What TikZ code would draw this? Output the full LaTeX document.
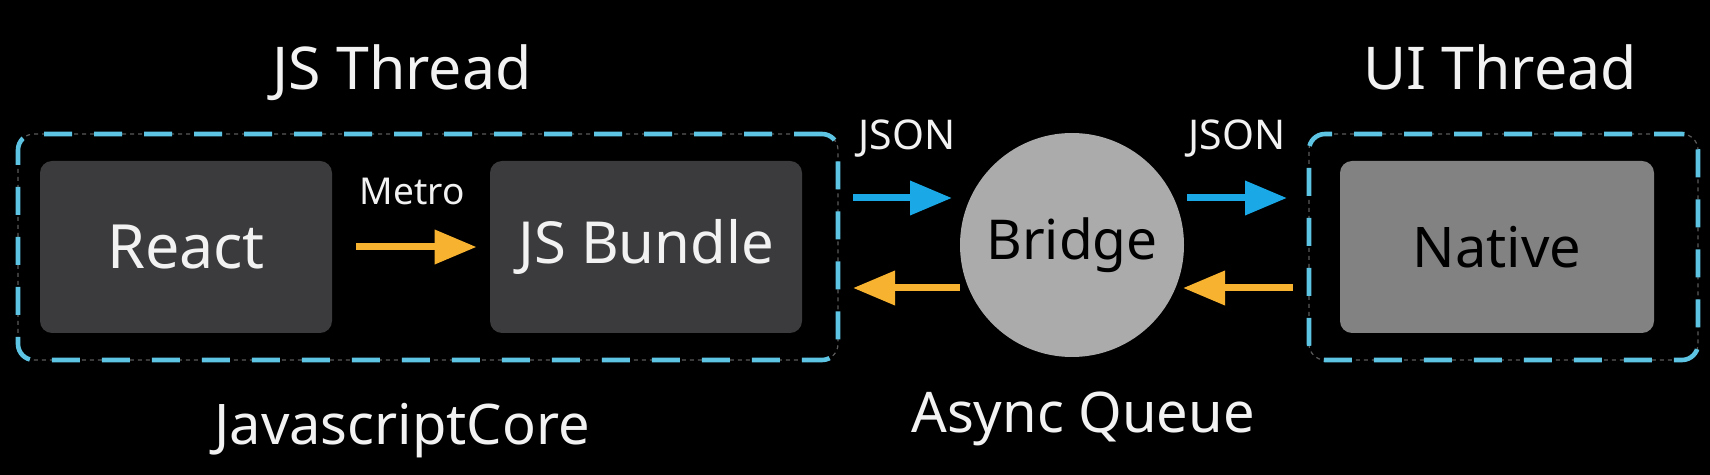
\documentclass[tikz,border=0pt]{standalone}
\usepackage{fontspec}
\setmainfont{Noto Sans}
\usetikzlibrary{arrows.meta}
\definecolor{darkbox}{HTML}{3B3B3D}
\definecolor{nativebox}{HTML}{828282}
\definecolor{bridgefill}{HTML}{ABABAB}
\definecolor{arrblue}{HTML}{1BA8E6}
\definecolor{arrorange}{HTML}{F7B22F}
\definecolor{frameblue}{HTML}{5EC4E3}
\definecolor{framegray}{HTML}{5A5A5A}
\definecolor{txtwhite}{HTML}{F2F2F2}
\newcommand{\fsz}[1]{\fontsize{#1}{1.2\dimexpr#1\relax}\selectfont}
\begin{document}
\begin{tikzpicture}[x=0.5pt,y=-0.5pt,
  boxstyle/.style={rounded corners=6pt, inner sep=0pt, minimum height=86pt, font=\fsz{29pt}},
  framestyle/.style={draw=framegray, line width=0.6pt, dash pattern=on 2pt off 2pt,
     rounded corners=8pt, inner sep=0pt, minimum height=113pt,
     postaction={draw=frameblue, line width=2.3pt, dash pattern=on 14pt off 11pt}},
  labelstyle/.style={text=txtwhite, anchor=base, inner sep=0pt},
  arrstyle/.style={line width=3.5pt, -{Triangle[length=21pt,width=16.5pt]}},
  bluearr/.style={arrstyle, draw=arrblue, fill=arrblue},
  orangearr/.style={arrstyle, draw=arrorange, fill=arrorange}]
\fill[black] (0,0) rectangle (1710,475);
\useasboundingbox (0,0) rectangle (1710,475);

% frames
\node[framestyle, minimum width=410pt] (frameL) at (428,247) {};
\node[framestyle, minimum width=194.5pt] (frameR) at (1503.5,247) {};

% boxes
\node[boxstyle, fill=darkbox, text=txtwhite, minimum width=146pt, font=\fsz{30.5pt}] (react) at (186,247) {React};
\node[boxstyle, fill=darkbox, text=txtwhite, minimum width=156pt] (bundle) at (646,247) {JS Bundle};
\node[boxstyle, fill=nativebox, text=black, minimum width=157pt, font=\fsz{28pt}] (native) at (1497,247) {Native};
\node[circle, fill=bridgefill, text=black, minimum size=112pt, inner sep=0pt, font=\fsz{27.5pt}] (bridge) at (1072,245) {Bridge};

% labels
\node[labelstyle, font=\fsz{29.5pt}] (jsthread) at (402,90) {JS Thread};
\node[labelstyle, font=\fsz{29.5pt}] (uithread) at (1500,90) {UI Thread};
\node[labelstyle, font=\fsz{18.5pt}] (metro) at (412,205) {Metro};
\node[labelstyle, font=\fsz{20.5pt}] (jsonL) at (907,150) {JSON};
\node[labelstyle, font=\fsz{20.5pt}] (jsonR) at (1237,150) {JSON};
\node[labelstyle, font=\fsz{28pt}] (jscore) at (402,445) {JavascriptCore};
\node[labelstyle, font=\fsz{28pt}] (async) at (1083,433) {Async Queue};

% arrow end points
\coordinate (b1s) at (853,198);
\coordinate (b1e) at (952,198);
\coordinate (o1s) at (960,288);
\coordinate (o1e) at (853,288);
\coordinate (b2s) at (1187,198);
\coordinate (b2e) at (1287,198);
\coordinate (o2s) at (1293,288);
\coordinate (o2e) at (1183,288);

% connectors
\draw[orangearr, shorten <=12pt, shorten >=6.5pt] (react.east) -- (bundle.west);
\draw[bluearr] (b1s) -- (b1e);
\draw[orangearr] (o1s) -- (o1e);
\draw[bluearr] (b2s) -- (b2e);
\draw[orangearr] (o2s) -- (o2e);
\end{tikzpicture}
\end{document}
